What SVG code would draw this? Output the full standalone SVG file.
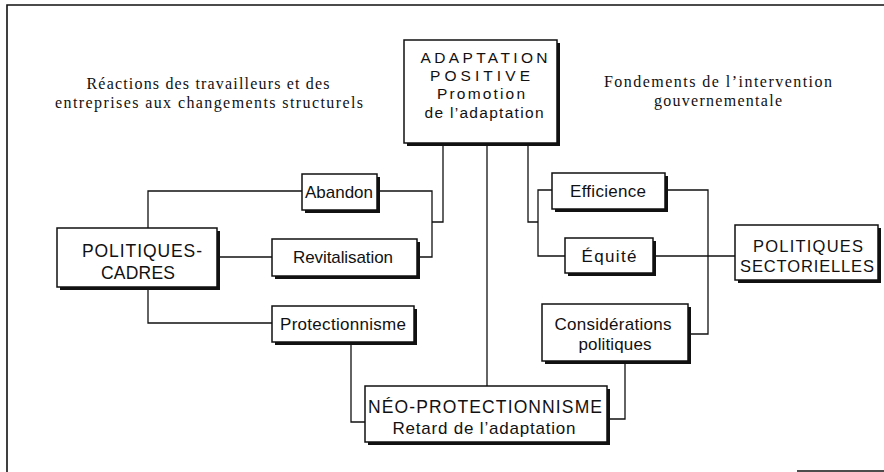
<svg xmlns="http://www.w3.org/2000/svg" width="884" height="472" viewBox="0 0 884 472">
<defs>
<style>
.bg{fill:#fff}
.frame{stroke:#111;stroke-width:1.6;fill:none}
.shadow{fill:#111}
.box{fill:#fff;stroke:#111;stroke-width:1.5}
.conn{fill:none;stroke:#111;stroke-width:1.3}
.hdr{font-family:"Liberation Serif","Times New Roman",serif;font-size:16px;fill:#111;text-anchor:middle}
.lbl{font-family:"Liberation Sans",Arial,sans-serif;font-size:17px;fill:#111;text-anchor:middle}
.cap{font-family:"Liberation Sans",Arial,sans-serif;font-size:17.5px;fill:#111;text-anchor:middle}
.sm{font-size:15.5px}
.ps{font-size:16.5px}
</style>
</defs>
<rect class="bg" x="0" y="0" width="884" height="472"/>
<g id="frame">
<path class="frame" d="M7,472 V5 H884"/>
<path class="frame" d="M797,471 H884"/>
</g>
<g id="headers">
<text class="hdr" x="208" y="89" textLength="243" lengthAdjust="spacing">Réactions des travailleurs et des</text>
<text class="hdr" x="209" y="108" textLength="308" lengthAdjust="spacing">entreprises aux changements structurels</text>
<text class="hdr" x="718" y="87" textLength="228" lengthAdjust="spacing">Fondements de l’intervention</text>
<text class="hdr" x="718" y="106" textLength="128" lengthAdjust="spacing">gouvernementale</text>
</g>
<g id="connectors">
<path class="conn" d="M443,143 V222 H432"/>
<path class="conn" d="M377,191 H432 V257 H417"/>
<path class="conn" d="M487,143 V386"/>
<path class="conn" d="M528,143 V222 H538"/>
<path class="conn" d="M552,190 H538 V256 H565"/>
<path class="conn" d="M148,228 V191 H302"/>
<path class="conn" d="M217,257 H272"/>
<path class="conn" d="M148,287 V323 H272"/>
<path class="conn" d="M351,342 V422 H365"/>
<path class="conn" d="M665,190 H708 V334 H688"/>
<path class="conn" d="M653,256 H735"/>
<path class="conn" d="M625,361 V419 H607"/>
</g>
<g id="adaptation">
<rect class="shadow" x="407" y="43" width="153" height="103"/>
<rect class="box" x="404" y="40" width="153" height="103"/>
<text class="cap sm" x="484" y="63" textLength="127" lengthAdjust="spacing">ADAPTATION</text>
<text class="cap sm" x="480" y="81" textLength="100" lengthAdjust="spacing">POSITIVE</text>
<text class="lbl sm" x="481" y="99" textLength="88" lengthAdjust="spacing">Promotion</text>
<text class="lbl sm" x="484" y="118" textLength="119" lengthAdjust="spacing">de l’adaptation</text>
</g>
<g id="abandon">
<rect class="shadow" x="305" y="177" width="75" height="36"/>
<rect class="box" x="302" y="174" width="75" height="36"/>
<text class="lbl" x="339" y="198" textLength="68" lengthAdjust="spacing">Abandon</text>
</g>
<g id="revitalisation">
<rect class="shadow" x="275" y="242" width="145" height="37"/>
<rect class="box" x="272" y="239" width="145" height="37"/>
<text class="lbl" x="343" y="263" textLength="100" lengthAdjust="spacing">Revitalisation</text>
</g>
<g id="politiques-cadres">
<rect class="shadow" x="60" y="231" width="160" height="59"/>
<rect class="box" x="57" y="228" width="160" height="59"/>
<text class="cap" x="142" y="257" textLength="120" lengthAdjust="spacing">POLITIQUES-</text>
<text class="cap" x="138" y="279" textLength="74" lengthAdjust="spacing">CADRES</text>
</g>
<g id="protectionnisme">
<rect class="shadow" x="275" y="309" width="142" height="36"/>
<rect class="box" x="272" y="306" width="142" height="36"/>
<text class="lbl" x="343" y="330" textLength="126" lengthAdjust="spacing">Protectionnisme</text>
</g>
<g id="neo-protectionnisme">
<rect class="shadow" x="368" y="389" width="242" height="56"/>
<rect class="box" x="365" y="386" width="242" height="56"/>
<text class="cap" x="485" y="413" textLength="234" lengthAdjust="spacing">NÉO-PROTECTIONNISME</text>
<text class="lbl" x="484" y="434" textLength="183" lengthAdjust="spacing">Retard de l’adaptation</text>
</g>
<g id="efficience">
<rect class="shadow" x="555" y="176" width="113" height="36"/>
<rect class="box" x="552" y="173" width="113" height="36"/>
<text class="lbl" x="608" y="197" textLength="76" lengthAdjust="spacing">Efficience</text>
</g>
<g id="equite">
<rect class="shadow" x="568" y="241" width="88" height="35"/>
<rect class="box" x="565" y="238" width="88" height="35"/>
<text class="lbl" x="609" y="262" textLength="55" lengthAdjust="spacing">Équité</text>
</g>
<g id="politiques-sectorielles">
<rect class="shadow" x="738" y="228" width="143" height="55"/>
<rect class="box" x="735" y="225" width="143" height="55"/>
<text class="cap ps" x="808" y="252" textLength="110" lengthAdjust="spacing">POLITIQUES</text>
<text class="cap ps" x="807" y="272" textLength="134" lengthAdjust="spacing">SECTORIELLES</text>
</g>
<g id="considerations">
<rect class="shadow" x="545" y="307" width="146" height="57"/>
<rect class="box" x="542" y="304" width="146" height="57"/>
<text class="lbl" x="613" y="330" textLength="117" lengthAdjust="spacing">Considérations</text>
<text class="lbl" x="615" y="350" textLength="73" lengthAdjust="spacing">politiques</text>
</g>
</svg>
